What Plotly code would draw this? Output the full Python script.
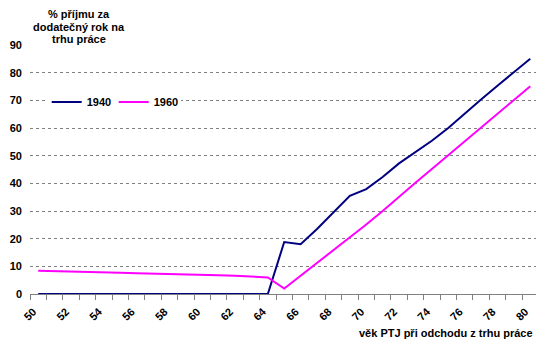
import plotly.graph_objects as go

years = [50, 51, 52, 53, 54, 55, 56, 57, 58, 59, 60, 61, 62, 63, 64, 65,
         66, 67, 68, 69, 70, 71, 72, 73, 74, 75, 76, 77, 78, 79, 80]
s1940 = [0, 0, 0, 0, 0, 0, 0, 0, 0, 0, 0, 0, 0, 0, 0, 18.8,
         18.0, 23.5, 29.6, 35.5, 37.9, 42.3, 47.2, 51.2, 55.4, 60.0, 65.3, 70.3, 75.3, 80.2, 85.0]
s1960 = [8.4, 8.3, 8.1, 8.0, 7.8, 7.7, 7.5, 7.4, 7.2, 7.1, 6.9, 6.8, 6.6, 6.4, 6.0, 2.0,
         6.6, 11.2, 15.8, 20.4, 25.1, 30.0, 35.2, 40.2, 45.2, 50.2, 55.2, 60.1, 65.1, 70.1, 75.1]
tick_labels = [50, 52, 54, 56, 58, 60, 62, 64, 66, 68, 70, 72, 74, 76, 78, 80]
y_ticks = [0, 10, 20, 30, 40, 50, 60, 70, 80, 90]

FONT = "Liberation Sans, Arial, sans-serif"

fig = go.Figure()
fig.add_trace(go.Scatter(x=years, y=s1940, mode="lines", name="1940",
                         line=dict(color="#000080", width=2)))
fig.add_trace(go.Scatter(x=years, y=s1960, mode="lines", name="1960",
                         line=dict(color="#FF00FF", width=2)))

fig.update_layout(
    width=536, height=339,
    margin=dict(l=30, r=0, t=45, b=45),
    paper_bgcolor="white", plot_bgcolor="white",
    font=dict(family=FONT, size=11, color="black"),
    showlegend=True,
    legend=dict(orientation="h", x=0.033, y=0.771, xanchor="left", yanchor="middle",
                bgcolor="white", itemwidth=30, entrywidth=22,
                font=dict(family=FONT, size=11, color="black", weight="bold"),
                tracegroupgap=0),
    xaxis=dict(range=[49.5, 80.35], tickmode="array", tickvals=tick_labels,
               ticktext=[str(v) for v in tick_labels], tickangle=-45,
               showgrid=False, zeroline=False, showline=True, linecolor="#808080",
               linewidth=1, ticks="", automargin=False,
               minor=dict(ticks="outside", tick0=49.5, dtick=1, ticklen=5,
                          tickcolor="#808080", showgrid=False),
               tickfont=dict(family=FONT, size=11, weight="bold"),
               ticklabelstandoff=6, ticklabelshift=-5),
    yaxis=dict(range=[0, 90], tickmode="array", tickvals=y_ticks,
               showgrid=True, gridcolor="#808080", griddash="dot", gridwidth=1,
               zeroline=False, showline=False, ticks="", automargin=False,
               tickfont=dict(family=FONT, size=11, weight="bold"),
               ticklabelstandoff=7),
)

title_lines = ["% příjmu za", "dodatečný rok na", "trhu práce"]
title_y = [14, 27, 39]
for txt, ypx in zip(title_lines, title_y):
    fig.add_annotation(text=txt, xref="paper", yref="paper",
                       x=(79 - 30) / 506, y=(294 - ypx) / 249,
                       xanchor="center", yanchor="middle", showarrow=False,
                       font=dict(family=FONT, size=11, weight="bold"))

fig.add_annotation(text="věk PTJ při odchodu z trhu práce", xref="paper", yref="paper",
                   x=(357 - 30) / 506, y=(294 - 333) / 249,
                   xanchor="left", yanchor="middle", showarrow=False,
                   font=dict(family=FONT, size=11, weight="bold"))

fig.write_html("out.html", config={"displayModeBar": False},
               post_script="document.body.style.margin='0';document.body.style.overflow='hidden';")
